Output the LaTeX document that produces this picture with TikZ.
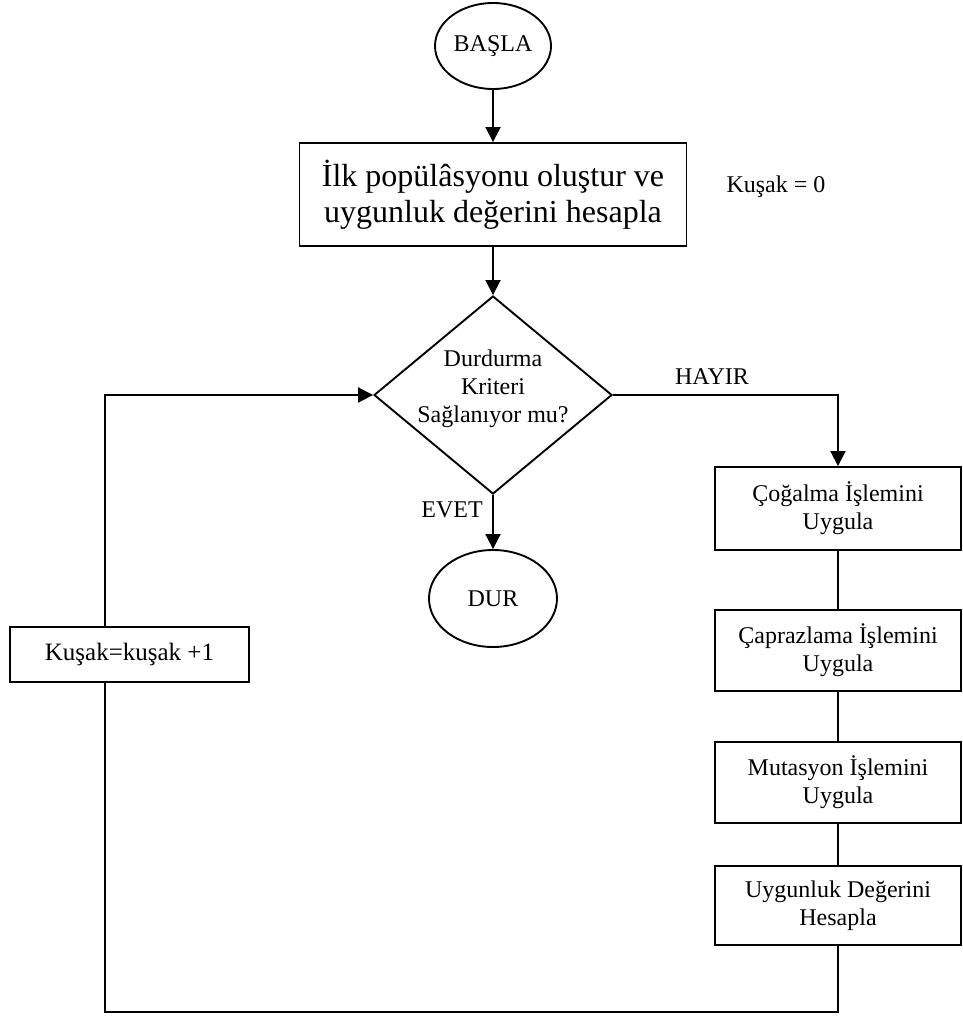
\documentclass[tikz,border=0pt]{standalone}
\usepackage{fontspec}
\setmainfont{Liberation Serif}
\usetikzlibrary{shapes.geometric,arrows.meta}

\begin{document}
\begin{tikzpicture}[x=1pt,y=-1pt,
  every node/.style={font=\fontsize{24}{28}\selectfont, inner sep=0pt, align=center},
  edge/.style={line width=1.9pt},
  arr/.style={edge,-{Triangle[length=15pt,width=15pt]}},
  terminal/.style={draw,ellipse,line width=1.9pt},
  procbox/.style={draw,rectangle,line width=1.9pt},
  sidebox/.style={procbox,minimum width=246pt,minimum height=81pt},
  decision/.style={draw,diamond,line width=1.9pt,minimum width=238pt,minimum height=198pt}
]
\useasboundingbox (0,0) rectangle (962,1017);

% main column
\node[terminal,minimum width=116pt,minimum height=86pt] (basla) at (493,46) {BAŞLA};
\node[procbox,minimum width=387pt,minimum height=103pt,
      font=\fontsize{32}{36}\selectfont] (ilk) at (493,194.5)
      {İlk popülâsyonu oluştur ve\\uygunluk değerini hesapla};
\node (kusaksifir) at (776,187) {Kuşak = 0};
\node[decision] (karar) at (493,395) {};
\node (kararyazi) at (493,389) {Durdurma\\Kriteri\\Sağlanıyor mu?};
\node (hayir) at (712,377) {HAYIR};
\node (evet) at (452,510) {EVET};
\node[terminal,minimum width=128pt,minimum height=97pt] (dur) at (493,598.5) {DUR};

% right column of operators
\node[sidebox,minimum height=83pt] (cogalma) at (838,508.5) {Çoğalma İşlemini\\Uygula};
\node[sidebox] (capraz) at (838,650.5) {Çaprazlama İşlemini\\Uygula};
\node[sidebox] (mutasyon) at (838,782.5) {Mutasyon İşlemini\\Uygula};
\node[sidebox,minimum height=79pt] (uygunluk) at (838,905.5) {Uygunluk Değerini\\Hesapla};

% generation counter
\node[procbox,minimum width=239pt,minimum height=55pt,
      font=\fontsize{25}{29}\selectfont] (sayac) at (129.5,654.5) {Kuşak=kuşak +1};

\coordinate (altsol) at (105,1012);

% connectors
\draw[arr] (basla) -- (ilk);
\draw[arr] (ilk) -- (karar);
\draw[arr] (karar) -- (dur);
\draw[arr] (karar.east) -| (cogalma.north);
\draw[edge] (cogalma) -- (capraz);
\draw[edge] (capraz) -- (mutasyon);
\draw[edge] (mutasyon) -- (uygunluk);
\draw[edge] (uygunluk.south) |- (altsol) -- (altsol |- sayac.south);
\draw[arr] (altsol |- sayac.north) |- (karar.west);
\end{tikzpicture}
\end{document}
